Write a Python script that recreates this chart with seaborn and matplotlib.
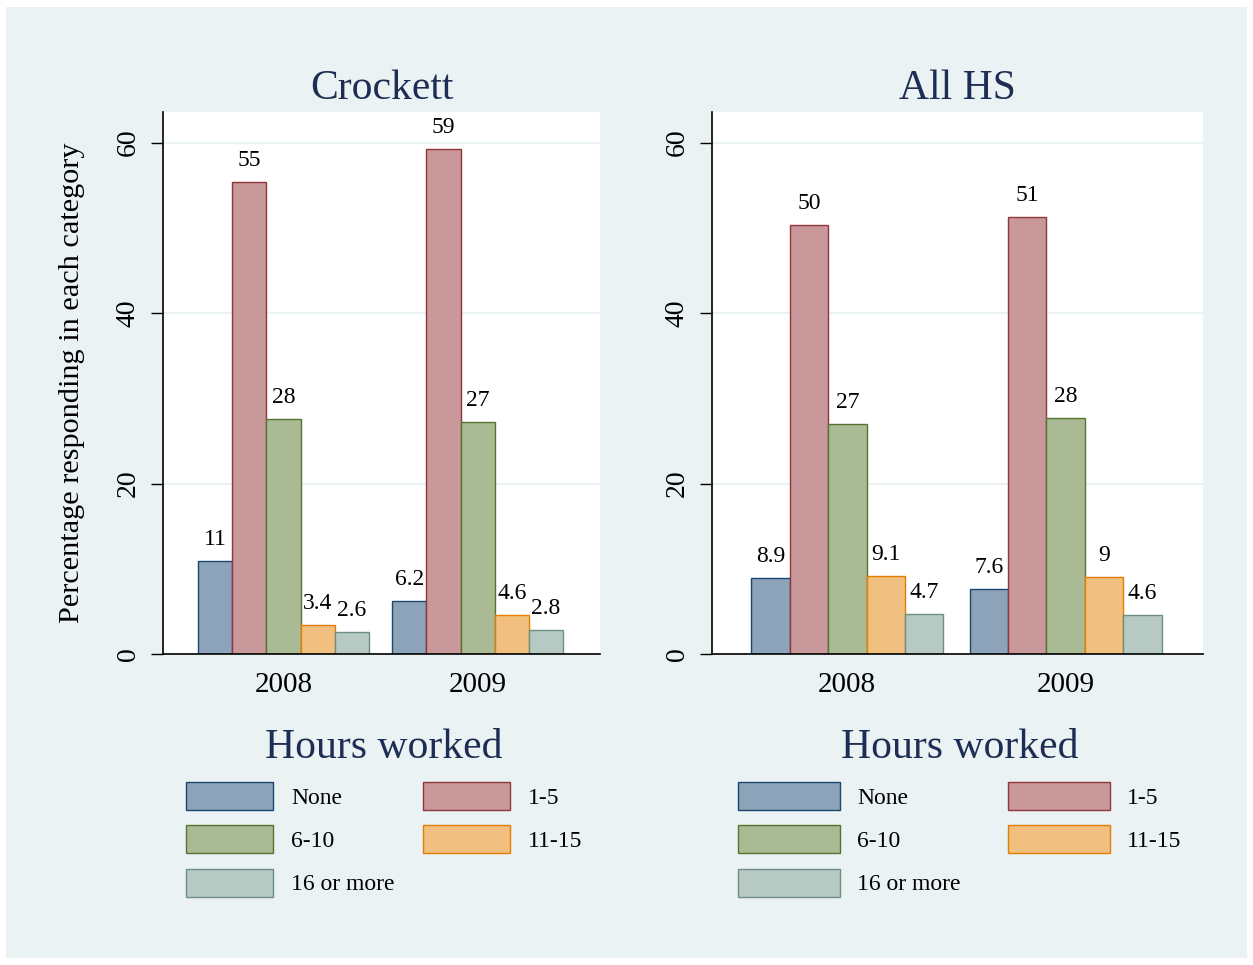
import pandas as pd
import matplotlib.pyplot as plt
import seaborn as sns
from matplotlib.patches import Patch, Rectangle

sns.set_theme(style="white")
plt.rcParams["font.family"] = ["Liberation Serif", "DejaVu Serif"]
for key in ["text.color", "axes.labelcolor", "xtick.color", "ytick.color"]:
    plt.rcParams[key] = "black"

# data
years = ["2008", "2009"]
hours = ["None", "1-5", "6-10", "11-15", "16 or more"]
crockett_2008 = [10.9, 55.4, 27.6, 3.4, 2.6]
crockett_2009 = [6.2, 59.3, 27.2, 4.6, 2.8]
allhs_2008 = [8.9, 50.3, 27.0, 9.1, 4.7]
allhs_2009 = [7.6, 51.3, 27.7, 9.0, 4.6]

FILLS = ["#8DA3B9", "#C8989B", "#A9BA94", "#F1BF80", "#B6C9C3"]
EDGES = ["#1A476F", "#90353B", "#55752F", "#E37E00", "#6E8E84"]
BG = "#EAF2F3"
NAVY = "#1E2D53"


def long_frame(v2008, v2009):
    rows = []
    for year, vals in zip(years, [v2008, v2009]):
        for h, v in zip(hours, vals):
            rows.append({"year": year, "hours": h, "pct": v})
    return pd.DataFrame(rows)


fig = plt.figure(figsize=(12.53, 9.65), dpi=100, facecolor="white")
fig.patches.append(Rectangle((6 / 1253, 7 / 965), 1241 / 1253, 951 / 965,
                             transform=fig.transFigure, facecolor=BG,
                             edgecolor="none", zorder=-10))

panels = [
    ("Crockett", crockett_2008, crockett_2009, [163, 600], 1.2),
    ("All HS", allhs_2008, allhs_2009, [712, 1203], 2.0),
]

for i, (title, v08, v09, (x0, x1), colsp) in enumerate(panels):
    ax = fig.add_axes([x0 / 1253, 1 - 654 / 965, (x1 - x0) / 1253, 542 / 965])
    df = long_frame(v08, v09)
    sns.barplot(data=df, x="year", y="pct", hue="hours", hue_order=hours,
                palette=FILLS, saturation=1, width=0.88, gap=0, linewidth=1,
                legend=False, ax=ax)
    for cont, ec in zip(ax.containers, EDGES):
        for bar in cont:
            bar.set_edgecolor(ec)
        ax.bar_label(cont, labels=[f"{b.get_height():.2g}" for b in cont],
                     padding=8, fontsize=17)

    ax.set_ylim(0, 63.6)
    ax.set_xlim(-0.62, 1.63)
    ax.set_yticks([0, 20, 40, 60])
    ax.yaxis.grid(True, color=BG, linewidth=1.5)
    ax.set_axisbelow(True)
    ax.tick_params(axis="y", length=9, width=1, color="black", pad=7,
                   labelsize=20, labelrotation=90, left=True)
    for lab in ax.get_yticklabels():
        lab.set_va("center")
    ax.tick_params(axis="x", length=0, pad=13, labelsize=21)
    for s in ["top", "right"]:
        ax.spines[s].set_visible(False)
    for s in ["left", "bottom"]:
        ax.spines[s].set_color("black")
        ax.spines[s].set_linewidth(1.2)
    ax.set_xlabel("")
    if i == 0:
        ax.set_ylabel("Percentage responding in each category", fontsize=21.8,
                      labelpad=22)
    else:
        ax.set_ylabel("")
    ax.set_title(title, fontsize=30, color=NAVY, pad=9.5)

    handles = [Patch(facecolor=f, edgecolor=e, linewidth=1)
               for f, e in zip(FILLS, EDGES)]
    order = [0, 2, 4, 1, 3]
    hl = 3.7 if i == 0 else 4.3
    leg = ax.legend([handles[k] for k in order], [hours[k] for k in order],
                    ncol=2, loc="upper center",
                    bbox_to_anchor=((x0 + x1 + 5) / 2 / 1253, 1 - 728 / 965),
                    bbox_transform=fig.transFigure, frameon=False,
                    fontsize=17, title="Hours worked", title_fontsize=30,
                    handlelength=hl, handleheight=1.45, handletextpad=0.75,
                    labelspacing=0.65, columnspacing=colsp, borderpad=0,
                    borderaxespad=0)
    leg.get_title().set_color(NAVY)

fig.savefig("out.png", dpi=100, facecolor="white")
